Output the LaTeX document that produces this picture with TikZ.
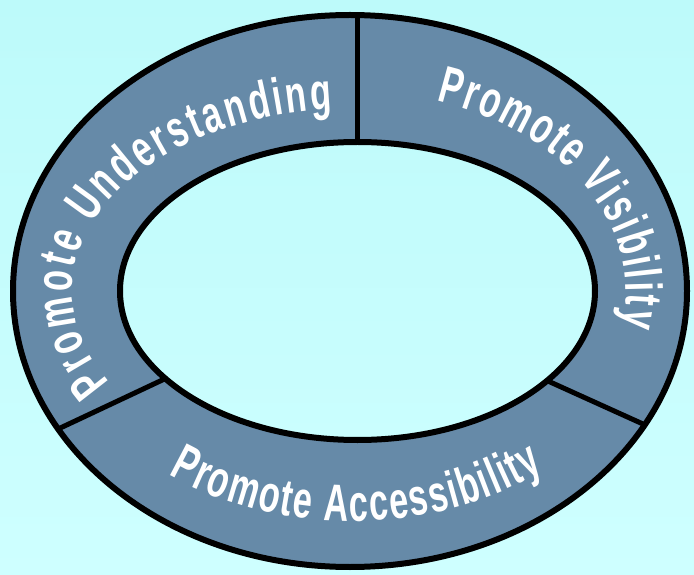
\documentclass[tikz,border=0pt]{standalone}
\usepackage{fontspec}
\newfontfamily\ringfont[FakeStretch=0.66]{Liberation Sans}
\usetikzlibrary{calc,decorations.text}
\definecolor{ringblue}{RGB}{102,138,168}
\definecolor{skytop}{RGB}{189,250,250}
\definecolor{skybottom}{RGB}{206,255,255}
\newcommand{\ringlabel}{\ringfont\bfseries\fontsize{52}{58}\selectfont}

\begin{document}
\begin{tikzpicture}
		[x=1pt,y=1pt,
		ringline/.style={draw=black, line width=6pt},
		divider/.style={draw=black, line width=5pt},
		ringtext/.style={decorate, decoration={text along path, text align=fit to path, text color=white, text={|\ringlabel|#1}}},
		]
		\useasboundingbox (0,0) rectangle (694,574);
		\shade[top color=skytop, bottom color=skybottom] (0,0) rectangle (694,574);
		
		%Centres
		\coordinate (oc) at (350,283);
		\coordinate (ic) at (357.5,283);
		\coordinate (tc) at (352,283);
		%Ring
		\fill[ringblue, even odd rule] (oc) ellipse[x radius=337pt, y radius=276pt] (ic) ellipse[x radius=237.5pt, y radius=149pt];
		\draw[ringline] (oc) ellipse[x radius=337pt, y radius=276pt];
		\draw[ringline] (ic) ellipse[x radius=237.5pt, y radius=149pt];
		%Divider ends
		\coordinate (topin) at ($(ic)+(90:237.5pt and 149pt)$);
		\coordinate (topout) at ($(oc)+(90:337pt and 276pt)$);
		\coordinate (leftin) at ($(ic)+(216:237.5pt and 149pt)$);
		\coordinate (leftout) at ($(oc)+(210:337pt and 276pt)$);
		\coordinate (rightin) at ($(ic)+(323:237.5pt and 149pt)$);
		\coordinate (rightout) at ($(oc)+(331:337pt and 276pt)$);
		%Lines
		\draw[divider] (topin) -- (topin |- topout);
		\draw[divider] (leftin) -- (leftout);
		\draw[divider] (rightin) -- (rightout);
		%Labels
		\path[ringtext={Promote Understanding}] ($(tc)+(210:280pt and 182pt)$) arc[start angle=210, end angle=94, x radius=280pt, y radius=182pt];
		\path[ringtext={Promote Visibility}] ($(tc)+(72:274pt and 200pt)$) arc[start angle=72, end angle=-10, x radius=274pt, y radius=200pt];
		\path[ringtext={Promote Accessibility}] ($(tc)+(233:305pt and 230pt)$) arc[start angle=233, end angle=309, x radius=305pt, y radius=230pt];
	\end{tikzpicture}
\end{document}
